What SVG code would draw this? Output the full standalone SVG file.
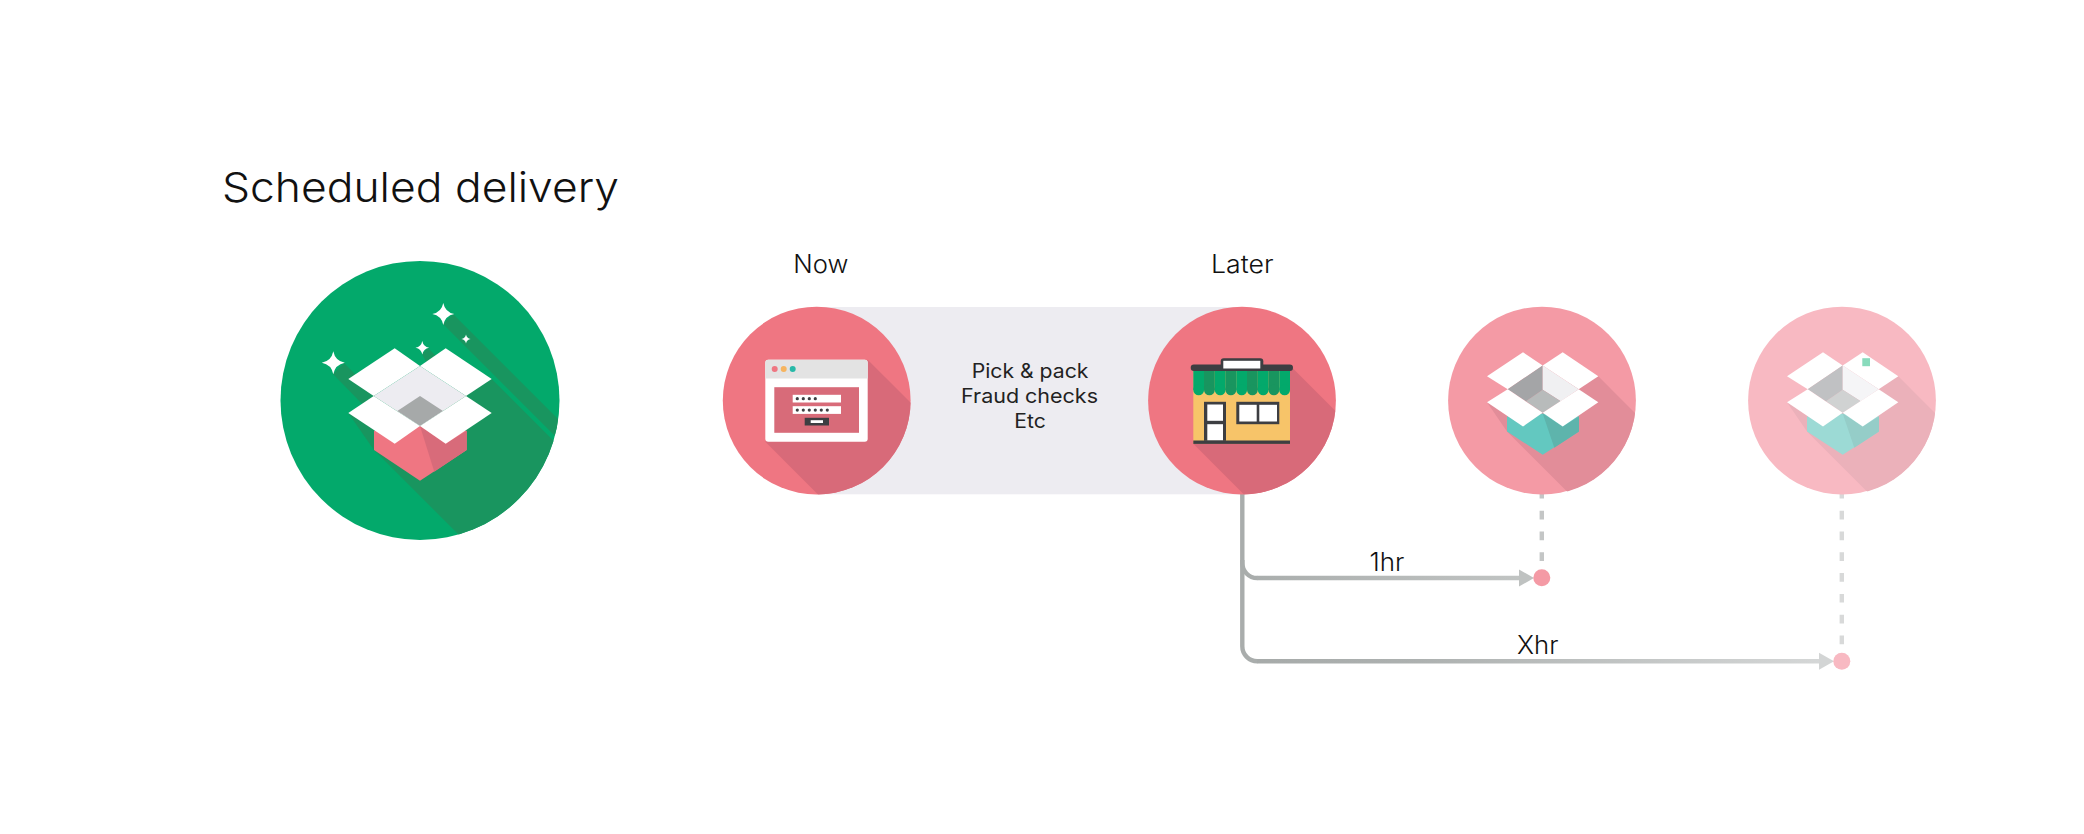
<svg xmlns="http://www.w3.org/2000/svg" width="2084" height="834" viewBox="0 0 2084 834">
<style>
text{font-family:"Inter","Liberation Sans",sans-serif;fill:#111;font-weight:300}
.mid{font-weight:400;fill:#222;font-size:19.5px}
.lbl{font-size:25px}
.w{fill:#fff}
.dk{fill:#3d3e42}
.dash{fill:none;stroke-width:4.4;stroke-dasharray:8.7 12.1}
.rail{fill:none;stroke-width:4.4}
.gn{fill:#03a96b}
.gd{fill:#19955f}
.b3 .c{fill:#f49aa5}.b3 .s{fill:#e28d99}.b3 .t{fill:#63c8c0}.b3 .td{fill:#5eb4ac}.b3 .wl{fill:#a4a5a7}.b3 .wr{fill:#f0f0f2}.b3 .fl{fill:#b8bbbb}
.b4 .c{fill:#f8b9c2}.b4 .s{fill:#ebb1ba}.b4 .t{fill:#9cdad5}.b4 .td{fill:#95cdc8}.b4 .wl{fill:#c0c1c3}.b4 .wr{fill:#f5f5f7}.b4 .fl{fill:#d0d2d2}
</style>
<defs>
<clipPath id="cg"><circle cx="420" cy="400.4" r="139.5"/></clipPath>
<clipPath id="cn"><circle cx="816.7" cy="400.6" r="93.9"/></clipPath>
<clipPath id="cl"><circle cx="1242" cy="400.6" r="93.9"/></clipPath>
<clipPath id="c3"><circle cx="1542" cy="400.6" r="93.9"/></clipPath>
<clipPath id="c4"><circle cx="1842" cy="400.6" r="93.9"/></clipPath>
<path id="spark" d="M0,-1Q.16,-.16 1,0Q.16,.16 0,1Q-.16,.16 -1,0Q-.16,-.16 0,-1Z" fill="#fff"/>
<linearGradient id="g1" gradientUnits="userSpaceOnUse" x1="1242" y1="0" x2="1534" y2="0"><stop offset="0" stop-color="#a9adac"/><stop offset="1" stop-color="#c2c5c4"/></linearGradient>
<linearGradient id="g2" gradientUnits="userSpaceOnUse" x1="1242" y1="0" x2="1834" y2="0"><stop offset="0" stop-color="#a6aaa9"/><stop offset=".3" stop-color="#adb1b0"/><stop offset="1" stop-color="#d6d8d8"/></linearGradient>
</defs>
<rect width="2084" height="834" fill="#fff"/>
<text id="title" x="222" y="202" font-size="41.5" textLength="397" lengthAdjust="spacingAndGlyphs">Scheduled delivery</text>
<rect id="band" x="817" y="307" width="425" height="187.3" fill="#edecf1"/>

<g id="connectors">
<path class="rail" stroke="#a9adac" d="M1242.3,490V562.5A15,15 0 0 0 1257.3,578"/>
<path class="rail" stroke="url(#g1)" d="M1257,578H1522"/>
<polygon fill="#bfc2c1" points="1519,569.5 1534,578 1519,586.5"/>
<path class="rail" stroke="#a9adac" d="M1242.3,560V646.3A15,15 0 0 0 1257.3,661.3"/>
<path class="rail" stroke="url(#g2)" d="M1257,661.3H1822"/>
<polygon fill="#d3d5d5" points="1819,652.8 1834,661.3 1819,669.8"/>
<path class="dash" stroke="#c4c6c6" d="M1541.8,489.9V561"/>
<path class="dash" stroke="#d8d9d9" d="M1841.8,489.9V645"/>
<circle cx="1541.8" cy="577.8" r="8.5" fill="#f49aa5"/>
<circle cx="1841.8" cy="661.2" r="8.5" fill="#f8b9c2"/>
</g>

<g id="node-scheduled">
<circle class="gn" cx="420" cy="400.4" r="139.5"/>
<g clip-path="url(#cg)" class="gd">
<polygon points="453,314 633,494 623,504 443,324"/>
<polygon points="344,363 424,443 412,455 333,374"/>
<polygon points="428,348 448,368 436,380 422,354"/>
<polygon points="491.7,379 691.7,579 574,650 374,450 348.3,413"/>
</g>
<use href="#spark" transform="translate(443.3,314) scale(11)"/>
<use href="#spark" transform="translate(333.3,362.7) scale(11.5)"/>
<use href="#spark" transform="translate(422.3,347.7) scale(6.8)"/>
<use href="#spark" transform="translate(466,339) scale(4.6)"/>
<polygon fill="#ef7682" points="420,426 374,430.7 374,450 420,480.7 466.7,450 466.7,430.7"/>
<polygon fill="#d86b7a" points="420,426 434.3,471.7 466.7,450 466.7,430.7 445.7,443.7"/>
<polygon class="w" points="394.7,348.3 348.3,379 373.7,396 420,366"/>
<polygon class="w" points="445.7,348.3 491.7,379 466,396 420,366"/>
<polygon fill="#edecf1" points="420,366 466,396 420,426 373.7,396"/>
<polygon fill="#a6a9a9" points="420,396 443,411 420,426 397.3,411"/>
<polygon class="w" points="373.7,396 348.3,413 394.7,443.7 420,426"/>
<polygon class="w" points="466,396 491.7,413 445.7,443.7 420,426"/>
</g>

<g id="node-now">
<text class="lbl" x="793.3" y="272.5" textLength="55" lengthAdjust="spacingAndGlyphs">Now</text>
<circle cx="816.7" cy="400.6" r="93.9" fill="#ef7682"/>
<polygon clip-path="url(#cn)" fill="#d86a79" points="867.7,359.8 987.7,479.8 885.3,561.8 765.3,441.8"/>
<rect x="765.3" y="359.8" width="102.4" height="82" rx="3" class="w"/>
<path fill="#e3e3e3" d="M765.3,378.5V362.8a3,3 0 0 1 3-3H864.7a3,3 0 0 1 3,3V378.5Z"/>
<circle cx="774.7" cy="369" r="3" fill="#ef7682"/>
<circle cx="783.7" cy="369" r="3" fill="#f6b45f"/>
<circle cx="792.7" cy="369" r="3" fill="#28b9a8"/>
<rect x="774.3" y="387.2" width="84.7" height="45.6" fill="#d86b79"/>
<rect x="792.7" y="394.8" width="48.3" height="7.7" class="w"/>
<rect x="792.7" y="406.2" width="48.3" height="7.7" class="w"/>
<g class="dk">
<circle cx="797.3" cy="398.7" r="1.6"/><circle cx="803.3" cy="398.7" r="1.6"/><circle cx="809.3" cy="398.7" r="1.6"/><circle cx="815.3" cy="398.7" r="1.6"/>
<circle cx="797.3" cy="410.1" r="1.6"/><circle cx="803.3" cy="410.1" r="1.6"/><circle cx="809.3" cy="410.1" r="1.6"/><circle cx="815.3" cy="410.1" r="1.6"/><circle cx="821.3" cy="410.1" r="1.6"/><circle cx="827.3" cy="410.1" r="1.6"/>
<rect x="804.7" y="417.8" width="24.3" height="7.7"/>
</g>
<rect x="810.7" y="420.2" width="12.3" height="2.8" class="w"/>
</g>

<g id="node-steps">
<text class="mid" x="971.7" y="378.2" textLength="116.7" lengthAdjust="spacingAndGlyphs">Pick &amp; pack</text>
<text class="mid" x="961" y="403.2" textLength="137" lengthAdjust="spacingAndGlyphs">Fraud checks</text>
<text class="mid" x="1014.3" y="428.4" textLength="31.4" lengthAdjust="spacingAndGlyphs">Etc</text>
</g>

<g id="node-later">
<text class="lbl" x="1211" y="272.5" textLength="62.5" lengthAdjust="spacingAndGlyphs">Later</text>
<circle cx="1242" cy="400.6" r="93.9" fill="#ef7682"/>
<polygon clip-path="url(#cl)" fill="#d86a79" points="1290,365.5 1410,485.5 1313.3,563.8 1193.3,443.8"/>
<rect x="1193.3" y="370.5" width="96.7" height="73.3" fill="#f7c469"/>
<g id="awning">
<rect class="gn" x="1193.3" y="370.5" width="10.8" height="19.4"/><circle class="gn" cx="1198.7" cy="389.9" r="5.4"/>
<rect class="gd" x="1204" y="370.5" width="10.8" height="19.4"/><circle class="gd" cx="1209.4" cy="389.9" r="5.4"/>
<rect class="gn" x="1214.8" y="370.5" width="10.8" height="19.4"/><circle class="gn" cx="1220.2" cy="389.9" r="5.4"/>
<rect class="gd" x="1225.5" y="370.5" width="10.8" height="19.4"/><circle class="gd" cx="1230.9" cy="389.9" r="5.4"/>
<rect class="gn" x="1236.3" y="370.5" width="10.8" height="19.4"/><circle class="gn" cx="1241.7" cy="389.9" r="5.4"/>
<rect class="gd" x="1247" y="370.5" width="10.8" height="19.4"/><circle class="gd" cx="1252.4" cy="389.9" r="5.4"/>
<rect class="gn" x="1257.8" y="370.5" width="10.8" height="19.4"/><circle class="gn" cx="1263.2" cy="389.9" r="5.4"/>
<rect class="gd" x="1268.5" y="370.5" width="10.8" height="19.4"/><circle class="gd" cx="1273.9" cy="389.9" r="5.4"/>
<rect class="gn" x="1279.3" y="370.5" width="10.7" height="19.4"/><circle class="gn" cx="1284.6" cy="389.9" r="5.4"/>
</g>
<rect class="dk" x="1190.7" y="364.5" width="102.3" height="6.4" rx="3.2"/>
<rect class="dk" x="1220.7" y="358.2" width="42.6" height="12.6" rx="3"/>
<rect class="w" x="1223.3" y="360.8" width="37" height="7.7"/>
<rect class="dk" x="1204" y="401.8" width="22" height="39"/>
<rect class="w" x="1207.3" y="404.5" width="15.7" height="16.3"/>
<rect class="w" x="1207.3" y="424.2" width="15.7" height="16.3"/>
<rect class="dk" x="1236.3" y="401.8" width="43" height="22.4"/>
<rect class="w" x="1239.3" y="404.8" width="17.4" height="16.7"/>
<rect class="w" x="1259.3" y="404.8" width="17.7" height="16.7"/>
<rect class="dk" x="1193.3" y="440.5" width="96.7" height="3.4"/>
</g>

<g id="node-1hr" class="b3" >
<circle class="c" cx="1542" cy="400.6" r="93.9"/>
<g transform="translate(0,.5)">
<polygon class="s" clip-path="url(#c3)" points="1598.3,375.7 1718.3,495.7 1627,551 1507,431 1487,401.7"/>
<polygon class="t" points="1542.7,413 1507,416 1507,431 1542.7,454.3 1579,431 1579,416"/>
<polygon class="td" points="1542.7,413 1554.3,447.3 1579,431 1579,416 1562.7,426"/>
<polygon class="w" points="1523,351.7 1487,375.7 1507.7,388.7 1542.7,365"/>
<polygon class="w" points="1562.7,351.7 1598.3,375.7 1578.7,388.7 1542.7,365"/>
<polygon class="wl" points="1542.7,365 1507.7,388.7 1526,400.7 1542.7,389.3"/>
<polygon class="wr" points="1542.7,365 1578.7,388.7 1560.7,400.7 1542.7,389.3"/>
<polygon class="fl" points="1542.7,389.3 1560.7,400.7 1542.7,412.3 1526,400.7"/>
<polygon class="w" points="1507.7,388.7 1487,401.7 1523,426 1542.7,412.3"/>
<polygon class="w" points="1578.7,388.7 1598.3,401.7 1562.7,426 1542.7,412.3"/>
</g>
</g>

<g id="node-xhr" class="b4">
<circle class="c" cx="1842" cy="400.6" r="93.9"/>
<g transform="translate(0,.5)">
<polygon class="s" clip-path="url(#c4)" points="1898.3,375.7 2018.3,495.7 1927,551 1807,431 1787,401.7"/>
<polygon class="t" points="1842.7,413 1807,416 1807,431 1842.7,454.3 1879,431 1879,416"/>
<polygon class="td" points="1842.7,413 1854.3,447.3 1879,431 1879,416 1862.7,426"/>
<polygon class="w" points="1823,351.7 1787,375.7 1807.7,388.7 1842.7,365"/>
<polygon class="w" points="1862.7,351.7 1898.3,375.7 1878.7,388.7 1842.7,365"/>
<rect x="1862.3" y="357.7" width="7.7" height="8" fill="#88dbbc"/>
<polygon class="wl" points="1842.7,365 1807.7,388.7 1826,400.7 1842.7,389.3"/>
<polygon class="wr" points="1842.7,365 1878.7,388.7 1860.7,400.7 1842.7,389.3"/>
<polygon class="fl" points="1842.7,389.3 1860.7,400.7 1842.7,412.3 1826,400.7"/>
<polygon class="w" points="1807.7,388.7 1787,401.7 1823,426 1842.7,412.3"/>
<polygon class="w" points="1878.7,388.7 1898.3,401.7 1862.7,426 1842.7,412.3"/>
</g>
</g>

<text id="label-1hr" class="lbl" x="1369.6" y="570.5" textLength="34.8" lengthAdjust="spacingAndGlyphs">1hr</text>
<text id="label-xhr" class="lbl" x="1517" y="654" textLength="41.4" lengthAdjust="spacingAndGlyphs">Xhr</text>
</svg>
